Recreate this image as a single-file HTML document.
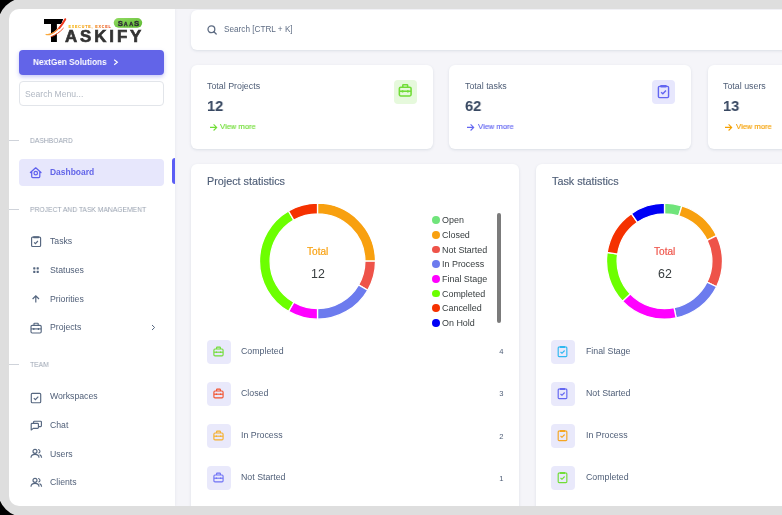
<!DOCTYPE html>
<html><head><meta charset="utf-8"><style>
html,body{margin:0;padding:0;}
body{width:782px;height:515px;overflow:hidden;position:relative;background:#f5f5f9;font-family:"Liberation Sans",sans-serif;}
.t{position:absolute;white-space:nowrap;will-change:transform;}
.b{position:absolute;}
.fr1{position:absolute;left:9px;top:9px;width:1000px;height:497px;border-radius:10px;box-shadow:0 0 0 60px #dedede;z-index:50;pointer-events:none;}
.fr2{position:absolute;left:-2px;top:-2px;width:1000px;height:519px;border-radius:26.5px;box-shadow:0 0 0 60px #000;z-index:51;pointer-events:none;}
</style></head><body>
<div class="b" style="left:9.00px;top:9.00px;width:166.00px;height:497.00px;background:#fff;box-shadow:0 0 3px rgba(67,89,113,.10);"></div>
<svg class="b" style="left:40.00px;top:14.00px;will-change:transform;" width="110" height="32" viewBox="0 0 110 32">
  <defs>
   <linearGradient id="sw" x1="0" y1="1" x2="1" y2="0"><stop offset="0" stop-color="#fbb040"/><stop offset=".55" stop-color="#f26522"/><stop offset="1" stop-color="#ed1c24"/></linearGradient>
   <linearGradient id="ex" x1="0" y1="0" x2="1" y2="0"><stop offset="0" stop-color="#f7b500"/><stop offset=".5" stop-color="#f39200"/><stop offset="1" stop-color="#e8411e"/></linearGradient>
   <linearGradient id="pill" x1="0" y1="0" x2="1" y2="1"><stop offset="0" stop-color="#92db62"/><stop offset="1" stop-color="#5cb832"/></linearGradient>
  </defs>
  <path d="M4 5.1 H23.2 L21.4 10 H16.9 V28.1 H11 V10 H4 Z" fill="#000"/>
  <path d="M7 21.6 C 12 22.6, 19 17.5, 24.6 7.6" fill="none" stroke="#fff" stroke-width="3"/>
  <path d="M6.1 20.5 C 11 22, 19 16, 25.2 5.2" fill="none" stroke="url(#sw)" stroke-width="1.25" stroke-linecap="round"/>
  <path d="M19.5 14 C 21.5 11.5, 23.5 8.5, 25.3 5.3" fill="none" stroke="#ee3a1f" stroke-width="1.9" stroke-linecap="round"/>
  <path d="M10.7 22.8 C 15 21.8, 20 18, 23.6 14" fill="none" stroke="#f04e23" stroke-width="1"/>
  <text x="24.95" y="28.2" font-family="Liberation Sans" font-weight="bold" font-size="16.9" fill="#333" stroke="#333" stroke-width=".65" letter-spacing="2.9">ASKIFY</text>
  <text x="28.6" y="13.8" font-family="Liberation Sans" font-weight="bold" font-size="3.6" fill="url(#ex)" stroke="url(#ex)" stroke-width=".08" letter-spacing="0.85">EXECUTE, EXCEL</text>
  <rect x="73.7" y="4" width="28.5" height="9.7" rx="4.85" fill="url(#pill)"/>
  <text y="11.8" font-family="Liberation Sans" font-weight="bold" fill="#2e2838" stroke="#2e2838" stroke-width=".3"><tspan x="77.7" font-size="7.9">S</tspan><tspan x="83.7" font-size="5.4">A</tspan><tspan x="89.2" font-size="5.4">A</tspan><tspan x="94.1" font-size="7.9">S</tspan></text>
</svg>
<div class="b" style="left:19.20px;top:50.20px;width:145.20px;height:24.40px;background:#6264e8;border-radius:4px;box-shadow:0 2px 4px rgba(98,100,232,.35);"></div>
<div class="t" style="left:32.80px;top:57.93px;font-size:9.3px;line-height:9.3px;color:#fff;font-weight:bold;transform:scaleX(0.885);transform-origin:0 0;">NextGen Solutions</div>
<svg class="b" style="left:113.00px;top:59.00px;" width="6" height="7" viewBox="0 0 6 7"><path d="M1.2 0.8 L4.4 3.3 L1.2 5.8" fill="none" stroke="#fff" stroke-width="1.1"/></svg>
<div class="b" style="left:19.20px;top:80.60px;width:145.20px;height:25.80px;background:#fff;border:1px solid #e2e5ea;border-radius:4px;box-sizing:border-box;"></div>
<div class="t" style="left:25.20px;top:89.72px;font-size:8.6px;line-height:8.6px;color:#b0b7c2;font-weight:normal;">Search Menu...</div>
<div class="b" style="left:9.00px;top:139.80px;width:10.00px;height:1.00px;background:#cfd3da;"></div>
<div class="t" style="left:29.70px;top:136.68px;font-size:7.7px;line-height:7.7px;color:#9aa3b1;font-weight:normal;transform:scaleX(0.877);transform-origin:0 0;">DASHBOARD</div>
<div class="b" style="left:9.00px;top:208.70px;width:10.00px;height:1.00px;background:#cfd3da;"></div>
<div class="t" style="left:29.70px;top:205.58px;font-size:7.7px;line-height:7.7px;color:#9aa3b1;font-weight:normal;transform:scaleX(0.877);transform-origin:0 0;">PROJECT AND TASK MANAGEMENT</div>
<div class="b" style="left:9.00px;top:364.30px;width:10.00px;height:1.00px;background:#cfd3da;"></div>
<div class="t" style="left:29.70px;top:361.18px;font-size:7.7px;line-height:7.7px;color:#9aa3b1;font-weight:normal;transform:scaleX(0.877);transform-origin:0 0;">TEAM</div>
<div class="b" style="left:19.00px;top:158.60px;width:145.20px;height:27.00px;background:#e7e7fc;border-radius:4px;"></div>
<div class="b" style="left:172.00px;top:158.30px;width:3.00px;height:26.00px;background:#5b5df5;border-radius:3px 0 0 3px;"></div>
<svg class="b" style="left:29.00px;top:166.00px;" width="14" height="14" viewBox="0 0 14 14"><path d="M1.4 6.5 L6.7 1.8 L12 6.5 M2.7 5.6 V10.5 Q2.7 11.5 3.7 11.5 H9.8 Q10.8 11.5 10.8 10.5 V5.6" fill="none" stroke="#5f61ee" stroke-width="1.25" stroke-linejoin="round" stroke-linecap="round"/><circle cx="6.75" cy="7.2" r="1.75" fill="none" stroke="#5f61ee" stroke-width="1.2"/></svg>
<div class="t" style="left:50.00px;top:168.05px;font-size:8.45px;line-height:8.45px;color:#6264e8;font-weight:bold;">Dashboard</div>
<div class="t" style="left:50.20px;top:237.14px;font-size:8.7px;line-height:8.7px;color:#4f5e77;font-weight:normal;">Tasks</div>
<div class="t" style="left:50.20px;top:266.04px;font-size:8.7px;line-height:8.7px;color:#4f5e77;font-weight:normal;">Statuses</div>
<div class="t" style="left:50.20px;top:294.74px;font-size:8.7px;line-height:8.7px;color:#4f5e77;font-weight:normal;">Priorities</div>
<div class="t" style="left:50.20px;top:323.44px;font-size:8.7px;line-height:8.7px;color:#4f5e77;font-weight:normal;">Projects</div>
<div class="t" style="left:50.20px;top:392.24px;font-size:8.7px;line-height:8.7px;color:#4f5e77;font-weight:normal;">Workspaces</div>
<div class="t" style="left:50.20px;top:420.84px;font-size:8.7px;line-height:8.7px;color:#4f5e77;font-weight:normal;">Chat</div>
<div class="t" style="left:50.20px;top:449.54px;font-size:8.7px;line-height:8.7px;color:#4f5e77;font-weight:normal;">Users</div>
<div class="t" style="left:50.20px;top:478.24px;font-size:8.7px;line-height:8.7px;color:#4f5e77;font-weight:normal;">Clients</div>
<svg class="b" style="left:29.00px;top:234.00px;" width="14" height="14" viewBox="0 0 14 14"><rect x="2.6" y="3.1" width="9" height="9.4" rx="1" fill="none" stroke="#566780" stroke-width="1.15"/><rect x="4.1" y="2.3" width="6" height="1.9" rx=".6" fill="#566780"/><path d="M5.1 8.4 L6.4 9.6 L8.9 7" fill="none" stroke="#566780" stroke-width="1.15"/></svg>
<svg class="b" style="left:32.00px;top:265.90px;" width="8" height="8" viewBox="0 0 8 8"><rect x="1.2" y="1.3" width="2.2" height="2.2" rx=".4" fill="#566780"/><rect x="4.6" y="1.3" width="2.2" height="2.2" rx=".4" fill="#566780"/><rect x="1.2" y="4.7" width="2.2" height="2.2" rx=".4" fill="#566780"/><rect x="4.6" y="4.7" width="2.2" height="2.2" rx=".4" fill="#566780"/></svg>
<svg class="b" style="left:30.00px;top:294.00px;" width="12" height="10" viewBox="0 0 12 10"><path d="M5.8 8.4 V1.8 M2.6 5 L5.8 1.8 L9 5" fill="none" stroke="#566780" stroke-width="1.2"/></svg>
<svg class="b" style="left:30.00px;top:322.00px;" width="13" height="12" viewBox="0 0 13 12"><g transform="scale(1.0)"><rect x="1" y="3.4" width="10.2" height="7.6" rx="1.2" fill="none" stroke="#566780" stroke-width="1.15"/><path d="M4 3.4 V1.8 Q4 1.2 4.6 1.2 H7.6 Q8.2 1.2 8.2 1.8 V3.4" fill="none" stroke="#566780" stroke-width="1.15"/><path d="M1 6.9 H11.2" stroke="#566780" stroke-width="1.15"/><path d="M3.8 6 V7.9 M8.4 6 V7.9" stroke="#566780" stroke-width="1.15"/></g></svg>
<svg class="b" style="left:151.20px;top:324.30px;" width="5" height="7" viewBox="0 0 5 7"><path d="M1 1 L3.6 3.5 L1 6" fill="none" stroke="#566780" stroke-width="1"/></svg>
<svg class="b" style="left:30.00px;top:391.50px;" width="12" height="12" viewBox="0 0 12 12"><rect x="1.3" y="1.3" width="9.4" height="9.4" rx="1" fill="none" stroke="#566780" stroke-width="1.15"/><path d="M3.8 6.1 L5.4 7.6 L8.3 4.6" fill="none" stroke="#566780" stroke-width="1.15"/></svg>
<svg class="b" style="left:30.00px;top:419.50px;" width="13" height="11" viewBox="0 0 13 11"><path d="M1.2 4.2 Q1.2 3.4 2 3.4 H7.6 Q8.4 3.4 8.4 4.2 V7.6 Q8.4 8.4 7.6 8.4 H3.3 L1.2 10 Z" fill="none" stroke="#566780" stroke-width="1.15" stroke-linejoin="round"/><path d="M3.6 3.4 V2 Q3.6 1.2 4.4 1.2 H10.6 Q11.4 1.2 11.4 2 V5.8 Q11.4 6.6 10.6 6.6 H8.4" fill="none" stroke="#566780" stroke-width="1.15"/></svg>
<svg class="b" style="left:30.00px;top:448.10px;" width="13" height="11" viewBox="0 0 13 11"><circle cx="5" cy="3.3" r="2" fill="none" stroke="#566780" stroke-width="1.15"/><path d="M1 9.8 Q1 6.4 5 6.4 Q9 6.4 9 9.8" fill="none" stroke="#566780" stroke-width="1.15"/><path d="M8 1.5 Q10 1.6 10 3.3 Q10 4.8 8.5 5.1 M9.6 6.6 Q11.6 7.4 11.6 9.8" fill="none" stroke="#566780" stroke-width="1.15"/></svg>
<svg class="b" style="left:30.00px;top:476.60px;" width="13" height="11" viewBox="0 0 13 11"><circle cx="5" cy="3.3" r="2" fill="none" stroke="#566780" stroke-width="1.15"/><path d="M1 9.8 Q1 6.4 5 6.4 Q9 6.4 9 9.8" fill="none" stroke="#566780" stroke-width="1.15"/><path d="M8 1.5 Q10 1.6 10 3.3 Q10 4.8 8.5 5.1 M9.6 6.6 Q11.6 7.4 11.6 9.8" fill="none" stroke="#566780" stroke-width="1.15"/></svg>
<div class="b" style="left:191.30px;top:10.00px;width:708.70px;height:39.80px;background:#fff;border-radius:6px;box-shadow:0 1px 3px rgba(67,89,113,.14);"></div>
<svg class="b" style="left:206.00px;top:24.00px;" width="12" height="11" viewBox="0 0 12 11"><circle cx="5.4" cy="5.3" r="3.4" fill="none" stroke="#5d6b82" stroke-width="1.3"/><path d="M7.9 7.8 L10.2 10" stroke="#5d6b82" stroke-width="1.3" stroke-linecap="round"/></svg>
<div class="t" style="left:223.60px;top:26.26px;font-size:8.2px;line-height:8.2px;color:#5f6d84;font-weight:normal;">Search [CTRL + K]</div>
<div class="b" style="left:191.20px;top:64.70px;width:241.60px;height:84.60px;background:#fff;border-radius:6px;box-shadow:0 1px 3px rgba(67,89,113,.14);"></div>
<div class="t" style="left:207.30px;top:81.51px;font-size:8.85px;line-height:8.85px;color:#4f5e77;font-weight:normal;">Total Projects</div>
<div class="t" style="left:207.20px;top:98.26px;font-size:15.4px;line-height:15.4px;color:#384862;font-weight:bold;transform:scaleX(0.955);transform-origin:0 0;">12</div>
<svg class="b" style="left:208.50px;top:122.50px;" width="9" height="9" viewBox="0 0 9 9"><path d="M1 4.4 H7.6 M4.6 1.3 L7.7 4.4 L4.6 7.5" fill="none" stroke="#71dd37" stroke-width="1.1"/></svg>
<div class="t" style="left:220.10px;top:122.57px;font-size:7.95px;line-height:7.95px;color:#71dd37;font-weight:normal;transform:scaleX(0.955);transform-origin:0 0;-webkit-text-stroke:0.15px #71dd37;">View more</div>
<div class="b" style="left:393.60px;top:80.00px;width:23.90px;height:24.00px;background:#e6f9dc;border-radius:4px;"></div>
<svg class="b" style="left:398.30px;top:83.30px;" width="14" height="14" viewBox="0 0 14 14"><g transform="translate(0.2,0.3) scale(1.15)"><g transform="scale(1)"><rect x="1" y="3.4" width="10.2" height="7.6" rx="1.2" fill="none" stroke="#71dd37" stroke-width="1.35"/><path d="M4 3.4 V1.8 Q4 1.2 4.6 1.2 H7.6 Q8.2 1.2 8.2 1.8 V3.4" fill="none" stroke="#71dd37" stroke-width="1.35"/><path d="M1 6.9 H11.2" stroke="#71dd37" stroke-width="1.35"/><path d="M3.8 6 V7.9 M8.4 6 V7.9" stroke="#71dd37" stroke-width="1.35"/></g></g></svg>
<div class="b" style="left:449.20px;top:64.70px;width:241.60px;height:84.60px;background:#fff;border-radius:6px;box-shadow:0 1px 3px rgba(67,89,113,.14);"></div>
<div class="t" style="left:465.10px;top:81.51px;font-size:8.85px;line-height:8.85px;color:#4f5e77;font-weight:normal;">Total tasks</div>
<div class="t" style="left:465.00px;top:98.26px;font-size:15.4px;line-height:15.4px;color:#384862;font-weight:bold;transform:scaleX(0.955);transform-origin:0 0;">62</div>
<svg class="b" style="left:466.30px;top:122.50px;" width="9" height="9" viewBox="0 0 9 9"><path d="M1 4.4 H7.6 M4.6 1.3 L7.7 4.4 L4.6 7.5" fill="none" stroke="#6366f1" stroke-width="1.1"/></svg>
<div class="t" style="left:477.90px;top:122.57px;font-size:7.95px;line-height:7.95px;color:#6366f1;font-weight:normal;transform:scaleX(0.955);transform-origin:0 0;-webkit-text-stroke:0.15px #6366f1;">View more</div>
<div class="b" style="left:651.60px;top:80.00px;width:23.90px;height:24.00px;background:#e7e7fd;border-radius:4px;"></div>
<svg class="b" style="left:656.80px;top:84.00px;" width="14" height="15" viewBox="0 0 14 15"><g transform="scale(1.08)"><rect x="1.3" y="2.2" width="9.4" height="10.4" rx="1" fill="none" stroke="#6366f1" stroke-width="1.3"/><rect x="3" y="1" width="6" height="2.2" rx=".6" fill="#6366f1"/><path d="M3.8 7.6 L5.4 9 L8.3 6" fill="none" stroke="#6366f1" stroke-width="1.3"/></g></svg>
<div class="b" style="left:707.70px;top:64.70px;width:241.60px;height:84.60px;background:#fff;border-radius:6px;box-shadow:0 1px 3px rgba(67,89,113,.14);"></div>
<div class="t" style="left:723.10px;top:81.51px;font-size:8.85px;line-height:8.85px;color:#4f5e77;font-weight:normal;">Total users</div>
<div class="t" style="left:723.00px;top:98.26px;font-size:15.4px;line-height:15.4px;color:#384862;font-weight:bold;transform:scaleX(0.955);transform-origin:0 0;">13</div>
<svg class="b" style="left:724.30px;top:122.50px;" width="9" height="9" viewBox="0 0 9 9"><path d="M1 4.4 H7.6 M4.6 1.3 L7.7 4.4 L4.6 7.5" fill="none" stroke="#f5a000" stroke-width="1.1"/></svg>
<div class="t" style="left:735.90px;top:122.57px;font-size:7.95px;line-height:7.95px;color:#f5a000;font-weight:normal;transform:scaleX(0.955);transform-origin:0 0;-webkit-text-stroke:0.15px #f5a000;">View more</div>
<div class="b" style="left:910.10px;top:80.00px;width:23.90px;height:24.00px;background:#fff2d6;border-radius:4px;"></div>
<div class="b" style="left:191.20px;top:164.00px;width:327.50px;height:456.00px;background:#fff;border-radius:6px;box-shadow:0 1px 3px rgba(67,89,113,.14);"></div>
<div class="t" style="left:207.00px;top:176.16px;font-size:10.8px;line-height:10.8px;color:#4f5e77;font-weight:normal;-webkit-text-stroke:0.15px #4f5e77;">Project statistics</div>
<div class="b" style="left:535.80px;top:164.00px;width:327.50px;height:456.00px;background:#fff;border-radius:6px;box-shadow:0 1px 3px rgba(67,89,113,.14);"></div>
<div class="t" style="left:551.60px;top:176.16px;font-size:10.8px;line-height:10.8px;color:#4f5e77;font-weight:normal;-webkit-text-stroke:0.15px #4f5e77;">Task statistics</div>
<svg class="b" style="left:0;top:0" width="782" height="515"><path d="M317.50 203.20 A58 58 0 0 1 375.50 261.20 L364.90 261.20 A47.4 47.4 0 0 0 317.50 213.80 Z" fill="#f8a00f" stroke="#fff" stroke-width="1.3"/><path d="M375.50 261.20 A58 58 0 0 1 367.73 290.20 L358.55 284.90 A47.4 47.4 0 0 0 364.90 261.20 Z" fill="#ee5349" stroke="#fff" stroke-width="1.3"/><path d="M367.73 290.20 A58 58 0 0 1 317.50 319.20 L317.50 308.60 A47.4 47.4 0 0 0 358.55 284.90 Z" fill="#6c7bee" stroke="#fff" stroke-width="1.3"/><path d="M317.50 319.20 A58 58 0 0 1 288.50 311.43 L293.80 302.25 A47.4 47.4 0 0 0 317.50 308.60 Z" fill="#ff00ff" stroke="#fff" stroke-width="1.3"/><path d="M288.50 311.43 A58 58 0 0 1 288.50 210.97 L293.80 220.15 A47.4 47.4 0 0 0 293.80 302.25 Z" fill="#6cff00" stroke="#fff" stroke-width="1.3"/><path d="M288.50 210.97 A58 58 0 0 1 317.50 203.20 L317.50 213.80 A47.4 47.4 0 0 0 293.80 220.15 Z" fill="#f53100" stroke="#fff" stroke-width="1.3"/><path d="M664.50 203.20 A58 58 0 0 1 681.86 205.86 L678.69 215.97 A47.4 47.4 0 0 0 664.50 213.80 Z" fill="#70e47b" stroke="#fff" stroke-width="1.3"/><path d="M681.86 205.86 A58 58 0 0 1 716.57 235.66 L707.06 240.33 A47.4 47.4 0 0 0 678.69 215.97 Z" fill="#f8a00f" stroke="#fff" stroke-width="1.3"/><path d="M716.57 235.66 A58 58 0 0 1 716.57 286.74 L707.06 282.07 A47.4 47.4 0 0 0 707.06 240.33 Z" fill="#ee5349" stroke="#fff" stroke-width="1.3"/><path d="M716.57 286.74 A58 58 0 0 1 676.18 318.01 L674.04 307.63 A47.4 47.4 0 0 0 707.06 282.07 Z" fill="#6c7bee" stroke="#fff" stroke-width="1.3"/><path d="M676.18 318.01 A58 58 0 0 1 622.46 301.16 L630.14 293.86 A47.4 47.4 0 0 0 674.04 307.63 Z" fill="#ff00ff" stroke="#fff" stroke-width="1.3"/><path d="M622.46 301.16 A58 58 0 0 1 607.17 252.42 L617.65 254.02 A47.4 47.4 0 0 0 630.14 293.86 Z" fill="#6cff00" stroke="#fff" stroke-width="1.3"/><path d="M607.17 252.42 A58 58 0 0 1 631.37 213.60 L637.42 222.30 A47.4 47.4 0 0 0 617.65 254.02 Z" fill="#f53100" stroke="#fff" stroke-width="1.3"/><path d="M631.37 213.60 A58 58 0 0 1 664.50 203.20 L664.50 213.80 A47.4 47.4 0 0 0 637.42 222.30 Z" fill="#0000f5" stroke="#fff" stroke-width="1.3"/></svg>
<div class="t" style="left:306.80px;top:247.15px;font-size:10.1px;line-height:10.1px;color:#f8a00f;font-weight:normal;-webkit-text-stroke:0.18px #f8a00f;">Total</div>
<div class="t" style="left:310.60px;top:267.80px;font-size:12.4px;line-height:12.4px;color:#373d3f;font-weight:normal;">12</div>
<div class="t" style="left:653.80px;top:247.15px;font-size:10.1px;line-height:10.1px;color:#ee5349;font-weight:normal;-webkit-text-stroke:0.18px #ee5349;">Total</div>
<div class="t" style="left:657.60px;top:267.80px;font-size:12.4px;line-height:12.4px;color:#373d3f;font-weight:normal;">62</div>
<div class="b" style="left:432.10px;top:216.20px;width:7.8px;height:7.8px;border-radius:50%;background:#70e47b;"></div>
<div class="t" style="left:442.20px;top:216.32px;font-size:8.95px;line-height:8.95px;color:#373d3f;font-weight:normal;">Open</div>
<div class="b" style="left:432.10px;top:230.86px;width:7.8px;height:7.8px;border-radius:50%;background:#f8a00f;"></div>
<div class="t" style="left:442.20px;top:230.98px;font-size:8.95px;line-height:8.95px;color:#373d3f;font-weight:normal;">Closed</div>
<div class="b" style="left:432.10px;top:245.52px;width:7.8px;height:7.8px;border-radius:50%;background:#ee5349;"></div>
<div class="t" style="left:442.20px;top:245.64px;font-size:8.95px;line-height:8.95px;color:#373d3f;font-weight:normal;">Not Started</div>
<div class="b" style="left:432.10px;top:260.18px;width:7.8px;height:7.8px;border-radius:50%;background:#6c7bee;"></div>
<div class="t" style="left:442.20px;top:260.30px;font-size:8.95px;line-height:8.95px;color:#373d3f;font-weight:normal;">In Process</div>
<div class="b" style="left:432.10px;top:274.84px;width:7.8px;height:7.8px;border-radius:50%;background:#ff00ff;"></div>
<div class="t" style="left:442.20px;top:274.96px;font-size:8.95px;line-height:8.95px;color:#373d3f;font-weight:normal;">Final Stage</div>
<div class="b" style="left:432.10px;top:289.50px;width:7.8px;height:7.8px;border-radius:50%;background:#6cff00;"></div>
<div class="t" style="left:442.20px;top:289.62px;font-size:8.95px;line-height:8.95px;color:#373d3f;font-weight:normal;">Completed</div>
<div class="b" style="left:432.10px;top:304.16px;width:7.8px;height:7.8px;border-radius:50%;background:#f53100;"></div>
<div class="t" style="left:442.20px;top:304.28px;font-size:8.95px;line-height:8.95px;color:#373d3f;font-weight:normal;">Cancelled</div>
<div class="b" style="left:432.10px;top:318.82px;width:7.8px;height:7.8px;border-radius:50%;background:#0000f5;"></div>
<div class="t" style="left:442.20px;top:318.94px;font-size:8.95px;line-height:8.95px;color:#373d3f;font-weight:normal;">On Hold</div>
<div class="b" style="left:497.00px;top:212.80px;width:3.60px;height:110.70px;background:#7b7b7b;border-radius:2px;"></div>
<div class="b" style="left:207.00px;top:339.70px;width:24.00px;height:24.00px;background:#e9e9fb;border-radius:4px;"></div>
<svg class="b" style="left:213.00px;top:345.70px;" width="13" height="12" viewBox="0 0 13 12"><g transform="scale(0.9)"><rect x="1" y="3.4" width="10.2" height="7.6" rx="1.2" fill="none" stroke="#71dd37" stroke-width="1.25"/><path d="M4 3.4 V1.8 Q4 1.2 4.6 1.2 H7.6 Q8.2 1.2 8.2 1.8 V3.4" fill="none" stroke="#71dd37" stroke-width="1.25"/><path d="M1 6.9 H11.2" stroke="#71dd37" stroke-width="1.25"/><path d="M3.8 6 V7.9 M8.4 6 V7.9" stroke="#71dd37" stroke-width="1.25"/></g></svg>
<div class="t" style="left:241.20px;top:346.85px;font-size:8.8px;line-height:8.8px;color:#4f5e77;font-weight:normal;">Completed</div>
<div class="t" style="left:480px;width:23.4px;text-align:right;top:348.27px;font-size:7.6px;line-height:7.6px;color:#4f5e77;">4</div>
<div class="b" style="left:551.00px;top:339.70px;width:24.00px;height:24.00px;background:#e9e9fb;border-radius:4px;"></div>
<svg class="b" style="left:557.20px;top:344.70px;transform:scale(.92);transform-origin:0 0;" width="12" height="14" viewBox="0 0 12 14"><rect x="1.3" y="2.2" width="9.4" height="10.4" rx="1" fill="none" stroke="#2fb8f0" stroke-width="1.25"/><rect x="3" y="1" width="6" height="2.2" rx=".6" fill="#2fb8f0"/><path d="M3.8 7.6 L5.4 9 L8.3 6" fill="none" stroke="#2fb8f0" stroke-width="1.25"/></svg>
<div class="t" style="left:585.80px;top:346.85px;font-size:8.8px;line-height:8.8px;color:#4f5e77;font-weight:normal;">Final Stage</div>
<div class="b" style="left:207.00px;top:381.90px;width:24.00px;height:24.00px;background:#e9e9fb;border-radius:4px;"></div>
<svg class="b" style="left:213.00px;top:387.90px;" width="13" height="12" viewBox="0 0 13 12"><g transform="scale(0.9)"><rect x="1" y="3.4" width="10.2" height="7.6" rx="1.2" fill="none" stroke="#f2532f" stroke-width="1.25"/><path d="M4 3.4 V1.8 Q4 1.2 4.6 1.2 H7.6 Q8.2 1.2 8.2 1.8 V3.4" fill="none" stroke="#f2532f" stroke-width="1.25"/><path d="M1 6.9 H11.2" stroke="#f2532f" stroke-width="1.25"/><path d="M3.8 6 V7.9 M8.4 6 V7.9" stroke="#f2532f" stroke-width="1.25"/></g></svg>
<div class="t" style="left:241.20px;top:389.05px;font-size:8.8px;line-height:8.8px;color:#4f5e77;font-weight:normal;">Closed</div>
<div class="t" style="left:480px;width:23.4px;text-align:right;top:390.47px;font-size:7.6px;line-height:7.6px;color:#4f5e77;">3</div>
<div class="b" style="left:551.00px;top:381.90px;width:24.00px;height:24.00px;background:#e9e9fb;border-radius:4px;"></div>
<svg class="b" style="left:557.20px;top:386.90px;transform:scale(.92);transform-origin:0 0;" width="12" height="14" viewBox="0 0 12 14"><rect x="1.3" y="2.2" width="9.4" height="10.4" rx="1" fill="none" stroke="#6366f1" stroke-width="1.25"/><rect x="3" y="1" width="6" height="2.2" rx=".6" fill="#6366f1"/><path d="M3.8 7.6 L5.4 9 L8.3 6" fill="none" stroke="#6366f1" stroke-width="1.25"/></svg>
<div class="t" style="left:585.80px;top:389.05px;font-size:8.8px;line-height:8.8px;color:#4f5e77;font-weight:normal;">Not Started</div>
<div class="b" style="left:207.00px;top:424.10px;width:24.00px;height:24.00px;background:#e9e9fb;border-radius:4px;"></div>
<svg class="b" style="left:213.00px;top:430.10px;" width="13" height="12" viewBox="0 0 13 12"><g transform="scale(0.9)"><rect x="1" y="3.4" width="10.2" height="7.6" rx="1.2" fill="none" stroke="#f5b02e" stroke-width="1.25"/><path d="M4 3.4 V1.8 Q4 1.2 4.6 1.2 H7.6 Q8.2 1.2 8.2 1.8 V3.4" fill="none" stroke="#f5b02e" stroke-width="1.25"/><path d="M1 6.9 H11.2" stroke="#f5b02e" stroke-width="1.25"/><path d="M3.8 6 V7.9 M8.4 6 V7.9" stroke="#f5b02e" stroke-width="1.25"/></g></svg>
<div class="t" style="left:241.20px;top:431.25px;font-size:8.8px;line-height:8.8px;color:#4f5e77;font-weight:normal;">In Process</div>
<div class="t" style="left:480px;width:23.4px;text-align:right;top:432.67px;font-size:7.6px;line-height:7.6px;color:#4f5e77;">2</div>
<div class="b" style="left:551.00px;top:424.10px;width:24.00px;height:24.00px;background:#e9e9fb;border-radius:4px;"></div>
<svg class="b" style="left:557.20px;top:429.10px;transform:scale(.92);transform-origin:0 0;" width="12" height="14" viewBox="0 0 12 14"><rect x="1.3" y="2.2" width="9.4" height="10.4" rx="1" fill="none" stroke="#f5a623" stroke-width="1.25"/><rect x="3" y="1" width="6" height="2.2" rx=".6" fill="#f5a623"/><path d="M3.8 7.6 L5.4 9 L8.3 6" fill="none" stroke="#f5a623" stroke-width="1.25"/></svg>
<div class="t" style="left:585.80px;top:431.25px;font-size:8.8px;line-height:8.8px;color:#4f5e77;font-weight:normal;">In Process</div>
<div class="b" style="left:207.00px;top:466.30px;width:24.00px;height:24.00px;background:#e9e9fb;border-radius:4px;"></div>
<svg class="b" style="left:213.00px;top:472.30px;" width="13" height="12" viewBox="0 0 13 12"><g transform="scale(0.9)"><rect x="1" y="3.4" width="10.2" height="7.6" rx="1.2" fill="none" stroke="#6f72f5" stroke-width="1.25"/><path d="M4 3.4 V1.8 Q4 1.2 4.6 1.2 H7.6 Q8.2 1.2 8.2 1.8 V3.4" fill="none" stroke="#6f72f5" stroke-width="1.25"/><path d="M1 6.9 H11.2" stroke="#6f72f5" stroke-width="1.25"/><path d="M3.8 6 V7.9 M8.4 6 V7.9" stroke="#6f72f5" stroke-width="1.25"/></g></svg>
<div class="t" style="left:241.20px;top:473.45px;font-size:8.8px;line-height:8.8px;color:#4f5e77;font-weight:normal;">Not Started</div>
<div class="t" style="left:480px;width:23.4px;text-align:right;top:474.87px;font-size:7.6px;line-height:7.6px;color:#4f5e77;">1</div>
<div class="b" style="left:551.00px;top:466.30px;width:24.00px;height:24.00px;background:#e9e9fb;border-radius:4px;"></div>
<svg class="b" style="left:557.20px;top:471.30px;transform:scale(.92);transform-origin:0 0;" width="12" height="14" viewBox="0 0 12 14"><rect x="1.3" y="2.2" width="9.4" height="10.4" rx="1" fill="none" stroke="#71dd37" stroke-width="1.25"/><rect x="3" y="1" width="6" height="2.2" rx=".6" fill="#71dd37"/><path d="M3.8 7.6 L5.4 9 L8.3 6" fill="none" stroke="#71dd37" stroke-width="1.25"/></svg>
<div class="t" style="left:585.80px;top:473.45px;font-size:8.8px;line-height:8.8px;color:#4f5e77;font-weight:normal;">Completed</div>
<div class="fr1"></div><div class="fr2"></div>
</body></html>
